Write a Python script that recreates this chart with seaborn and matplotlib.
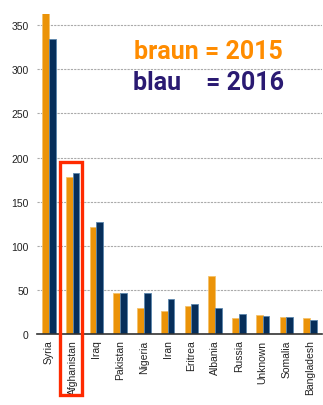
import matplotlib
matplotlib.use("Agg")
import matplotlib.pyplot as plt
import matplotlib.transforms as mtransforms
from matplotlib.patches import Rectangle
import seaborn as sns
import pandas as pd
import numpy as np

countries = ["Syria", "Afghanistan", "Iraq", "Pakistan", "Nigeria", "Iran",
             "Eritrea", "Albania", "Russia", "Unknown", "Somalia", "Bangladesh"]
values_2015 = [364, 178, 121, 46, 30, 26, 32, 66, 18, 21, 19, 18]
values_2016 = [335, 183, 127, 47, 46, 40, 34, 29, 23, 20, 19, 16]
years = ["2015", "2016"]
y_ticks = [0, 50, 100, 150, 200, 250, 300, 350]

df = pd.DataFrame({
    "country": countries * 2,
    "value": values_2015 + values_2016,
    "year": [years[0]] * len(countries) + [years[1]] * len(countries),
})

sns.set_style("white")
plt.rcParams["font.family"] = ["Liberation Sans", "DejaVu Sans"]

fig = plt.figure(figsize=(3.23, 4.06), dpi=100)
ax = fig.add_axes([37 / 323, 1 - 335 / 406, 285 / 323, 320 / 406])

palette = {"2015": "#EB9308", "2016": "#062E5A"}
sns.barplot(data=df, x="country", y="value", hue="year", palette=palette,
            width=0.56, saturation=1, legend=False, ax=ax, dodge=True)
for bar, ec in zip(ax.patches, ["#F5C26A"] * len(countries) + ["#5B86AD"] * len(countries)):
    bar.set_edgecolor(ec)
    bar.set_linewidth(0.6)

ax.set_ylim(0, 362.8)
ax.set_xlim(-0.5, len(countries) - 0.5)
ax.set_yticks(y_ticks)
ax.yaxis.grid(True, linestyle=(0, (2, 1)), color="#aaaaaa", linewidth=0.8)
ax.set_axisbelow(True)
for s in ["left", "right", "top"]:
    ax.spines[s].set_visible(False)
ax.spines["bottom"].set_color("#333333")
ax.spines["bottom"].set_linewidth(1.2)
ax.set_xlabel("")
ax.set_ylabel("")
ax.set_xticks(range(len(countries)))
ax.set_xticklabels(countries, rotation=90, fontsize=7.5, color="#222222")
ax.set_xticks(np.arange(len(countries)) + 0.5, minor=True)
ax.tick_params(axis="x", which="major", length=0, pad=4)
ax.tick_params(axis="x", which="minor", length=4, width=1, color="#333333", direction="out")
ax.tick_params(axis="y", length=0, pad=6, labelsize=7.5, labelcolor="#222222")

fig.text(134 / 323, 1 - 52 / 406, "braun = 2015", color="#FF8C00", fontsize=18,
         fontweight="bold", family=["Roboto", "DejaVu Sans"], va="center", ha="left")
fig.text(133 / 323, 1 - 83 / 406, "blau    = 2016", color="#2A1A72", fontsize=18,
         fontweight="bold", family=["Roboto", "DejaVu Sans"], va="center", ha="left")

trans = mtransforms.blended_transform_factory(ax.transData, fig.transFigure)
rect = Rectangle((0.47, 1 - 396 / 406), 0.92, (396 - 163) / 406, transform=trans,
                 fill=False, edgecolor="#FF2A00", linewidth=2.4, clip_on=False)
fig.add_artist(rect)

fig.savefig("out.png", dpi=100)
